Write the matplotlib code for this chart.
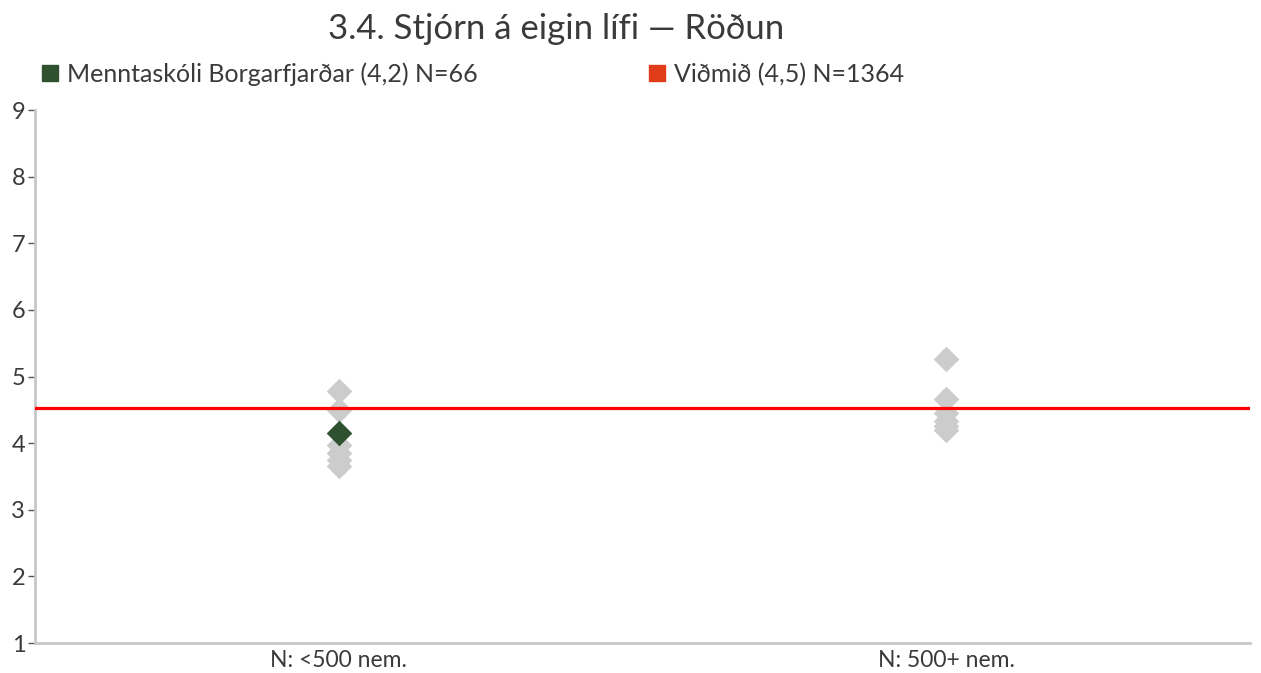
import matplotlib.pyplot as plt
from matplotlib.lines import Line2D

plt.rcParams['font.family'] = ['Lato', 'DejaVu Sans']

# gögn
flokkar = ['N: <500 nem.', 'N: 500+ nem.']
adrir_litlir = [4.78, 4.49, 3.97, 3.85, 3.75, 3.66]
adrir_storir = [5.26, 4.66, 4.45, 4.33, 4.26, 4.19]
skoli = 'Menntaskóli Borgarfjarðar'
skoli_gildi = 4.15
skoli_flokkur = 0
skoli_n = 66
vidmid = 4.52
vidmid_n = 1364
titill = '3.4. Stjórn á eigin lífi — Röðun'

grar = '#cccccc'
graenn = '#2f5130'
raudur = '#ff0000'
texti = '#3a3a3a'

fig = plt.figure(figsize=(12.61, 6.73), dpi=100)
ax = fig.add_axes([35/1261, 30/673, 1215/1261, 533/673])

ax.scatter([0]*len(adrir_litlir), adrir_litlir, marker='D', s=170, color=grar, linewidths=0, zorder=2)
ax.scatter([1]*len(adrir_storir), adrir_storir, marker='D', s=170, color=grar, linewidths=0, zorder=2)
ax.scatter([skoli_flokkur], [skoli_gildi], marker='D', s=170, color=graenn, linewidths=0, zorder=4)
ax.axhline(vidmid, color=raudur, lw=2.3, zorder=3)

ax.set_xlim(-0.5, 1.5)
ax.set_ylim(1, 9)
ax.set_xticks([0, 1])
ax.set_xticklabels(flokkar, fontsize=16.5, color=texti)
ax.set_yticks(range(1, 10))
ax.tick_params(axis='y', length=5, width=1, color='#555555', labelsize=17, labelcolor=texti, pad=2)
ax.tick_params(axis='x', length=0, pad=5)
for s in ['top', 'right']:
    ax.spines[s].set_visible(False)
for s in ['left', 'bottom']:
    ax.spines[s].set_color('#c8c8c8')
    ax.spines[s].set_linewidth(2)

fig.text(556/1261, 1 - 29/673, titill, ha='center', va='center', fontsize=25, color=texti)

def fmt(v):
    return ('%.1f' % v).replace('.', ',')

handles = [
    Line2D([], [], marker='s', ls='', color=graenn, markersize=11),
    Line2D([], [], marker='s', ls='', color='#e03c1a', markersize=11),
]
labels = [
    '%s (%s) N=%d' % (skoli, fmt(skoli_gildi), skoli_n),
    'Viðmið (%s) N=%d' % (fmt(vidmid), vidmid_n),
]
fig.legend(handles, labels, ncol=2, loc='center left', bbox_to_anchor=(41/1261, 1 - 74/673),
           frameon=False, fontsize=18, handlelength=0.75, handletextpad=0.3,
           columnspacing=6.8, labelcolor=texti, borderaxespad=0, borderpad=0)

fig.savefig('out.png', dpi=100)
